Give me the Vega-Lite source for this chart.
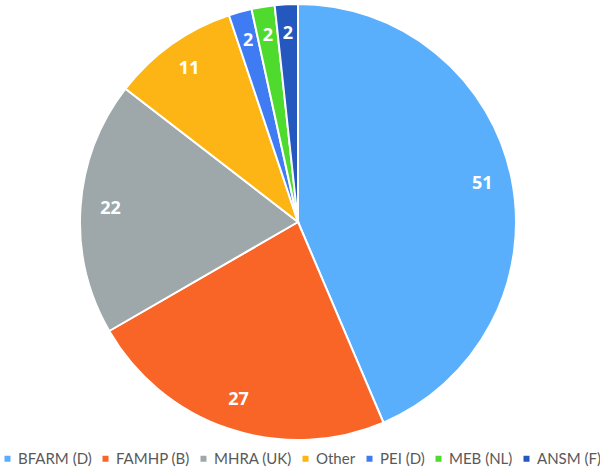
{
  "$schema": "https://vega.github.io/schema/vega-lite/v6.json",
  "width": 596,
  "height": 444,
  "autosize": "none",
  "padding": {"left": 0, "top": 0, "right": 4, "bottom": 25},
  "background": "white",
  "config": {"view": {"stroke": null}},
  "data": {
    "values": [
      {"agency": "BFARM (D)", "count": 51, "rank": 1},
      {"agency": "FAMHP (B)", "count": 27, "rank": 2},
      {"agency": "MHRA (UK)", "count": 22, "rank": 3},
      {"agency": "Other", "count": 11, "rank": 4},
      {"agency": "PEI (D)", "count": 2, "rank": 5},
      {"agency": "MEB (NL)", "count": 2, "rank": 6},
      {"agency": "ANSM (F)", "count": 2, "rank": 7}
    ]
  },
  "encoding": {
    "theta": {"field": "count", "type": "quantitative", "stack": true},
    "order": {"field": "rank", "type": "quantitative"},
    "color": {
      "field": "agency",
      "type": "nominal",
      "scale": {
        "domain": ["BFARM (D)", "FAMHP (B)", "MHRA (UK)", "Other", "PEI (D)", "MEB (NL)", "ANSM (F)"],
        "range": ["#5AAFFD", "#F96526", "#9EA8AA", "#FDB515", "#3F7CF4", "#4EDB2E", "#2458BF"]
      },
      "legend": {
        "title": null,
        "orient": "none",
        "direction": "horizontal",
        "legendX": 0,
        "legendY": 451,
        "symbolType": "square",
        "symbolSize": 36,
        "symbolStrokeWidth": 0,
        "labelFont": "Lato",
        "labelFontSize": 15,
        "labelColor": "#595959",
        "labelOffset": 3,
        "labelLimit": 200,
        "columnPadding": 6
      }
    }
  },
  "layer": [
    {
      "mark": {"type": "arc", "outerRadius": 218, "stroke": "white", "strokeWidth": 2}
    },
    {
      "mark": {"type": "text", "radius": 188, "font": "Open Sans", "fontWeight": "bold", "fontSize": 18, "fill": "white"},
      "encoding": {
        "text": {"field": "count", "type": "quantitative"},
        "color": {"value": "white"}
      }
    }
  ]
}
